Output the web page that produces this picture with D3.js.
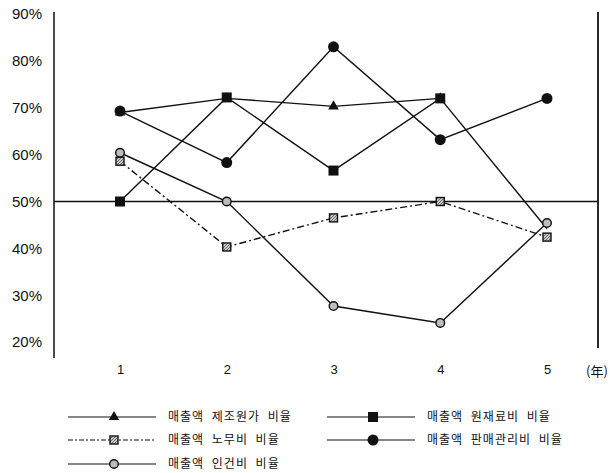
<!DOCTYPE html>
<html>
<head>
<meta charset="utf-8">
<script src="https://cdn.jsdelivr.net/npm/d3@7/dist/d3.min.js"></script>
<style>
  html, body { margin: 0; padding: 0; background: #fff; }
  svg { display: block; }
</style>
</head>
<body>
<svg id="chart" width="610" height="473"></svg>
<script>
// Years on the x axis
const years = [1, 2, 3, 4, 5];
const yTicks = [20, 30, 40, 50, 60, 70, 80, 90];

// Ratios to sales (%) for each cost item
const mfgCost   = [69, 72, 70.3, 72, null];     // 매출액 제조원가 비율
const material  = [50, 72.2, 56.6, 72, 44.2];   // 매출액 원재료비 비율
const labor     = [58.6, 40.3, 46.5, 50, 42.4]; // 매출액 노무비 비율
const sga       = [69.3, 58.3, 83, 63.2, 72];   // 매출액 판매관리비 비율
const personnel = [60.4, 50, 27.7, 24.1, 45.4]; // 매출액 인건비 비율

const seriesNames = [
  "매출액 제조원가 비율",
  "매출액 원재료비 비율",
  "매출액 노무비 비율",
  "매출액 판매관리비 비율",
  "매출액 인건비 비율"
];

const svg = d3.select("#chart");
const ink = "#111";

// pattern for the hatched square marker
const defs = svg.append("defs");
const pat = defs.append("pattern")
  .attr("id", "hatch").attr("patternUnits", "userSpaceOnUse")
  .attr("width", 3).attr("height", 3);
pat.append("rect").attr("width", 3).attr("height", 3).attr("fill", "#c8c8c8");
pat.append("path").attr("d", "M0,3 L3,0").attr("stroke", "#555").attr("stroke-width", 0.8);

const x = d3.scaleLinear().domain([1, 5]).range([120, 547]);
const y = d3.scaleLinear().domain([50, 90]).range([201.5, 14]);

const leftX = 54, rightX = 598;

// y axis labels
const yAxis = d3.axisLeft(y).tickValues(yTicks).tickSize(0).tickPadding(12)
  .tickFormat(d => d + "%");
svg.append("g")
  .attr("transform", `translate(${leftX},0)`)
  .call(yAxis)
  .call(g => g.select(".domain").remove())
  .call(g => g.selectAll("text")
    .attr("font-family", "Liberation Sans, Arial, sans-serif")
    .attr("font-size", 15).attr("fill", ink));

// x axis labels
const xAxis = d3.axisBottom(x).tickValues(years).tickSize(0).tickFormat(d3.format("d"));
svg.append("g")
  .attr("transform", "translate(0,362)")
  .call(xAxis)
  .call(g => g.select(".domain").remove())
  .call(g => g.selectAll("text")
    .attr("font-family", "Liberation Sans, Arial, sans-serif")
    .attr("font-size", 13).attr("fill", ink));

svg.append("text")
  .attr("x", 597).attr("y", 376)
  .attr("text-anchor", "middle")
  .attr("font-family", "Noto Sans CJK KR, sans-serif")
  .attr("font-size", 13).attr("fill", ink)
  .text("(年)");

// frame lines
svg.append("line").attr("x1", leftX).attr("x2", leftX).attr("y1", 12).attr("y2", 358)
  .attr("stroke", ink).attr("stroke-width", 1.5);
svg.append("line").attr("x1", rightX).attr("x2", rightX).attr("y1", 12).attr("y2", 348)
  .attr("stroke", ink).attr("stroke-width", 1.8);
svg.append("line").attr("x1", leftX).attr("x2", rightX).attr("y1", y(50)).attr("y2", y(50))
  .attr("stroke", ink).attr("stroke-width", 1.4);

// marker drawing helper
function drawMarker(g, type, cx, cy) {
  if (type === "triangle") {
    g.append("path")
      .attr("d", d3.symbol(d3.symbolTriangle, 48)())
      .attr("transform", `translate(${cx},${cy})`)
      .attr("fill", ink);
  } else if (type === "square") {
    g.append("rect").attr("x", cx - 5).attr("y", cy - 5).attr("width", 10).attr("height", 10)
      .attr("fill", ink);
  } else if (type === "hatch") {
    g.append("rect").attr("x", cx - 4).attr("y", cy - 4).attr("width", 8).attr("height", 8)
      .attr("fill", "url(#hatch)").attr("stroke", ink).attr("stroke-width", 1.4);
  } else if (type === "dot") {
    g.append("circle").attr("cx", cx).attr("cy", cy).attr("r", 5.5).attr("fill", ink);
  } else if (type === "ring") {
    g.append("circle").attr("cx", cx).attr("cy", cy).attr("r", 4.3)
      .attr("fill", "#bdbdbd").attr("stroke", ink).attr("stroke-width", 1.4);
  }
}

// drawing order: later entries sit on top; the raw-material line ends
// at year 5 without a marker of its own
const series = [
  { name: seriesNames[0], values: mfgCost,   marker: "triangle", dash: null,      bare: [] },
  { name: seriesNames[1], values: material,  marker: "square",   dash: null,      bare: [5] },
  { name: seriesNames[3], values: sga,       marker: "dot",      dash: null,      bare: [] },
  { name: seriesNames[2], values: labor,     marker: "hatch",    dash: "7,3,2,3", bare: [] },
  { name: seriesNames[4], values: personnel, marker: "ring",     dash: null,      bare: [] }
];

const line = d3.line()
  .defined(d => d.v != null)
  .x(d => x(d.year))
  .y(d => y(d.v));

const plot = svg.append("g");
series.forEach(s => {
  const pts = years.map((yr, i) => ({ year: yr, v: s.values[i] }));
  plot.append("path")
    .datum(pts)
    .attr("d", line)
    .attr("fill", "none")
    .attr("stroke", ink)
    .attr("stroke-width", 1.4)
    .attr("stroke-dasharray", s.dash);
});
series.forEach(s => {
  const g = plot.append("g");
  years.forEach((yr, i) => {
    if (s.values[i] != null && !s.bare.includes(yr)) drawMarker(g, s.marker, x(yr), y(s.values[i]));
  });
});

// legend
const legendItems = [
  { name: seriesNames[0], marker: "triangle", dash: null,      lx: 68,  ly: 417 },
  { name: seriesNames[1], marker: "square",   dash: null,      lx: 327, ly: 417 },
  { name: seriesNames[2], marker: "hatch",    dash: "5,2,2,2", lx: 68,  ly: 440 },
  { name: seriesNames[3], marker: "dot",      dash: null,      lx: 327, ly: 440 },
  { name: seriesNames[4], marker: "ring",     dash: null,      lx: 68,  ly: 464 }
];
const legend = svg.append("g");
legendItems.forEach(it => {
  const g = legend.append("g");
  g.append("line")
    .attr("x1", it.lx).attr("x2", it.lx + 88)
    .attr("y1", it.ly).attr("y2", it.ly)
    .attr("stroke", ink).attr("stroke-width", 1.1)
    .attr("stroke-dasharray", it.dash);
  drawMarker(g, it.marker, it.lx + 46, it.ly);
  g.append("text")
    .attr("x", it.lx + 100).attr("y", it.ly + 4)
    .attr("font-family", "Noto Sans CJK KR, sans-serif")
    .attr("font-size", 12).attr("fill", ink)
    .attr("letter-spacing", 1)
    .attr("word-spacing", 4)
    .text(it.name);
});
</script>
</body>
</html>
